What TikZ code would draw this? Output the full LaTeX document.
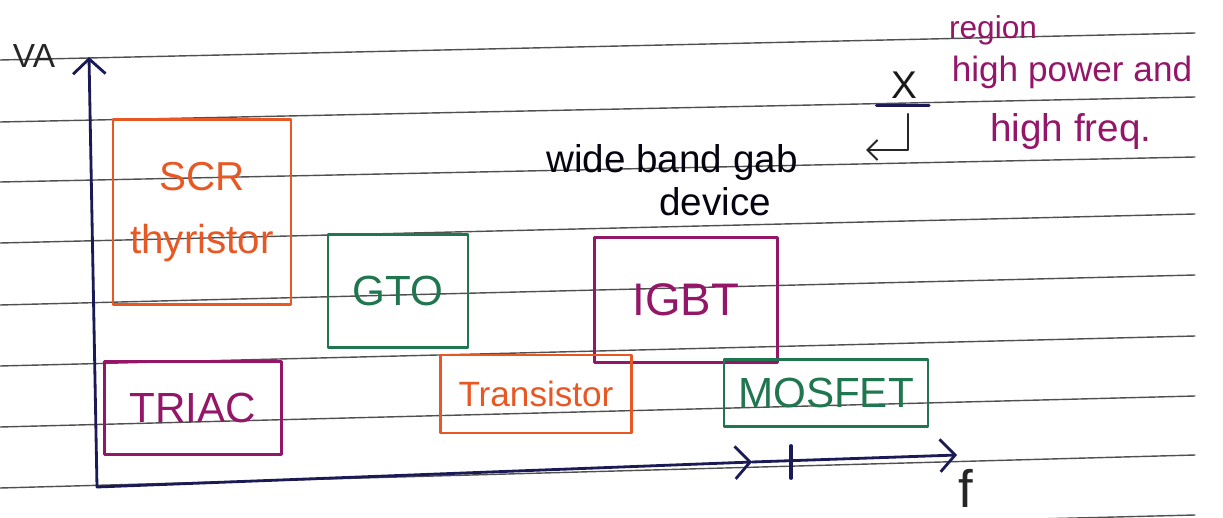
\documentclass[tikz,border=0pt]{standalone}
\usepackage{fontspec}
\setmainfont{Liberation Sans}
\usetikzlibrary{arrows.meta,positioning}

\definecolor{scrorange}{RGB}{232,88,36}
\definecolor{gtogreen}{RGB}{32,118,78}
\definecolor{igbtpurple}{RGB}{148,22,104}
\definecolor{axisblue}{RGB}{26,26,86}
\definecolor{paperline}{RGB}{80,80,80}

\tikzset{
  device/.style={draw=#1, text=#1, line width=1.3pt, inner sep=0pt, align=center},
  note/.style={text=igbtpurple, font=\fontsize{20}{24}\selectfont, inner sep=0pt},
  axis/.style={axisblue, line width=1.6pt},
}

\begin{document}
\begin{tikzpicture}[x=0.02cm,y=-0.02cm,>={Straight Barb[length=3mm,width=6.5mm]},line join=round,line cap=round]

\clip (0,0) rectangle (1223,517);
\fill[white] (0,0) rectangle (1223,517);

% lines of the paper
\foreach \yl/\yr in {60/33,122/97,182/157,243/214,305/275,366/336,427/396,488/455,545/515}
	\draw[paperline, line width=0.8pt] (0,\yl) -- (1195,\yr);

% axes
\coordinate (o)    at (97,487);
\coordinate (vtop) at (89,57);
\coordinate (fmid) at (752,462);
\coordinate (fend) at (957,455);
\draw[axis,->] (o) -- (vtop);
\draw[axis,->] (o) -- (fmid);
\draw[axis,->] (fmid) -- (fend);
\draw[axis, line width=2.2pt] (791,446) -- (791,478);

\node[text=black!85, font=\fontsize{19}{20}\selectfont] (va) at (34,56) {VA};
\node[text=black!85, font=\fontsize{30}{32}\selectfont] (f)  at (966,488) {f};

% devices
\node[device=scrorange, minimum width=3.56cm, minimum height=3.7cm,
      font=\fontsize{23}{36}\selectfont] (scr) at (202,212) {SCR\\thyristor};
\node[device=gtogreen, minimum width=2.8cm, minimum height=2.26cm,
      font=\fontsize{24}{28}\selectfont] (gto) at (398,291) {GTO};
\node[device=igbtpurple, minimum width=3.66cm, minimum height=2.5cm,
      font=\fontsize{26}{28}\selectfont] (igbt) at (686,300) {IGBT};
\node[device=igbtpurple, minimum width=3.54cm, minimum height=1.86cm,
      font=\fontsize{24}{28}\selectfont] (triac) at (193,408) {TRIAC};
\node[device=scrorange, minimum width=3.82cm, minimum height=1.56cm,
      font=\fontsize{20}{24}\selectfont] (trans) at (536,394) {Transistor};
\node[device=gtogreen, minimum width=4.08cm, minimum height=1.34cm,
      font=\fontsize{24}{28}\selectfont] (mos) at (826,393) {MOSFET};

% wide band gap note
\node[text=black!80!axisblue, font=\fontsize{22}{26}\selectfont] (wbg) at (672,163) {wide band gab};
\node[text=black!80!axisblue, font=\fontsize{22}{26}\selectfont] (dev) at (715,202) {device};

\node[text=black!90, font=\fontsize{22}{24}\selectfont, inner sep=0pt] (xm) at (904,85) {X};
\draw[axisblue, line width=1.8pt] ([xshift=-0.55cm,yshift=-4pt]xm.south) -- ([xshift=0.5cm,yshift=-4pt]xm.south);
\coordinate (xa) at (908,114);
\coordinate (xb) at (866,150);
\draw[black!85, line width=1.2pt, ->, >={Straight Barb[length=2mm,width=4mm]}] (xa) |- (xb);

\node[note, font=\fontsize{18}{20}\selectfont] (reg) at (993,30) {region};
\node[note] (hpa) at (1072,72) {high power and};
\node[note, font=\fontsize{22}{24}\selectfont] (hfq) at (1071,132) {high freq.};

\end{tikzpicture}
\end{document}
